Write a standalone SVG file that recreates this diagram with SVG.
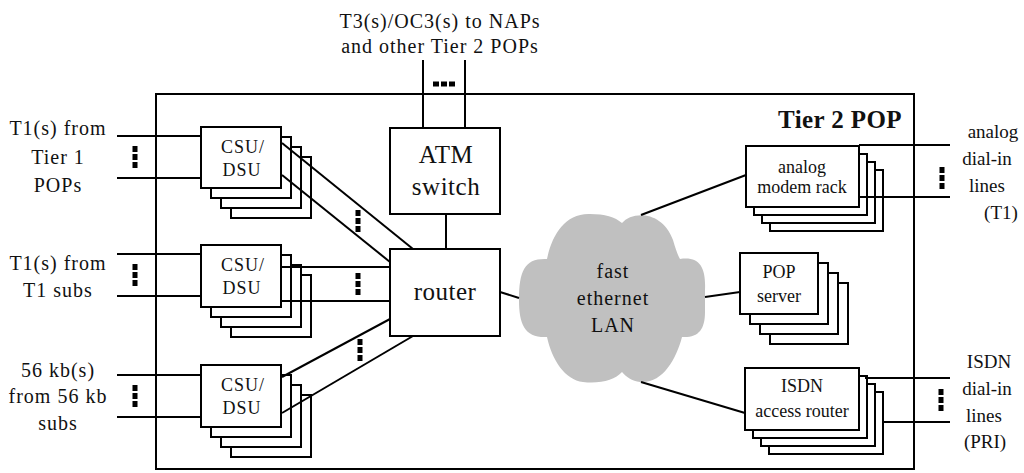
<svg xmlns="http://www.w3.org/2000/svg" xmlns:xlink="http://www.w3.org/1999/xlink" width="1024" height="473" viewBox="0 0 1024 473" font-family="'Liberation Serif', 'DejaVu Serif', serif">
<style>
.box{fill:#fff;stroke:#000;stroke-width:2}
.ln{stroke:#000;stroke-width:2;fill:none}
text{font-family:'Liberation Serif','DejaVu Serif',serif;fill:#111}
.lbl{font-size:20px;letter-spacing:1px;text-anchor:middle}
.rl{font-size:19px;text-anchor:middle}
.bl{font-size:18px;text-anchor:middle}
.big{font-size:25px;letter-spacing:0.5px;text-anchor:middle}
.cloud{fill:#c0c0c0}
</style>
<defs>
<g id="vdots"><rect x="-2.5" y="-11" width="5" height="6"/><rect x="-2.5" y="-3" width="5" height="6"/><rect x="-2.5" y="5" width="5" height="6"/></g>
<g id="hdots"><rect x="-11" y="-2.5" width="6" height="5"/><rect x="-3" y="-2.5" width="6" height="5"/><rect x="5" y="-2.5" width="6" height="5"/></g>
</defs>
<rect id="pop" x="156" y="94" width="758" height="375" fill="none" stroke="#000" stroke-width="2"/>
<text x="902" y="128" font-size="25" font-weight="bold" text-anchor="end" letter-spacing="0.4">Tier 2 POP</text>

<g id="top-label">
<text class="lbl" x="440" y="28">T3(s)/OC3(s) to NAPs</text>
<text class="lbl" x="440" y="53">and other Tier 2 POPs</text>
</g>
<g id="left-labels">
<text class="lbl" x="58" y="135">T1(s) from</text>
<text class="lbl" x="58" y="164">Tier 1</text>
<text class="lbl" x="58" y="192">POPs</text>
<text class="lbl" x="58" y="270">T1(s) from</text>
<text class="lbl" x="58" y="297">T1 subs</text>
<text class="lbl" x="58" y="377">56 kb(s)</text>
<text class="lbl" x="58" y="403">from 56 kb</text>
<text class="lbl" x="58" y="430">subs</text>
</g>
<g id="right-labels">
<text class="rl" x="993" y="138">analog</text>
<text class="rl" x="987" y="165">dial-in</text>
<text class="rl" x="987" y="192">lines</text>
<text class="rl" x="1001" y="219">(T1)</text>
<text class="rl" x="989" y="368">ISDN</text>
<text class="rl" x="987" y="395">dial-in</text>
<text class="rl" x="984" y="422">lines</text>
<text class="rl" x="985" y="448">(PRI)</text>
</g>

<g id="csu1">
<rect class="box" x="231" y="157" width="80" height="61"/>
<rect class="box" x="221" y="147" width="80" height="61"/>
<rect class="box" x="211" y="137" width="80" height="61"/>
<rect class="box" x="201" y="127" width="80" height="61"/>
<text class="bl" x="243" y="153" letter-spacing="1">CSU/</text>
<text class="bl" x="242" y="176" letter-spacing="1">DSU</text>
</g>
<g id="csu2">
<rect class="box" x="231" y="275" width="80" height="62"/>
<rect class="box" x="221" y="265" width="80" height="62"/>
<rect class="box" x="211" y="255" width="80" height="62"/>
<rect class="box" x="201" y="245" width="80" height="62"/>
<text class="bl" x="243" y="271" letter-spacing="1">CSU/</text>
<text class="bl" x="242" y="294" letter-spacing="1">DSU</text>
</g>
<g id="csu3">
<rect class="box" x="231" y="395" width="80" height="62"/>
<rect class="box" x="221" y="385" width="80" height="62"/>
<rect class="box" x="211" y="375" width="80" height="62"/>
<rect class="box" x="201" y="365" width="80" height="62"/>
<text class="bl" x="243" y="391" letter-spacing="1">CSU/</text>
<text class="bl" x="242" y="414" letter-spacing="1">DSU</text>
</g>
<g id="atm">
<rect class="box" x="390" y="128" width="110" height="86"/>
<text class="big" x="446" y="163">ATM</text>
<text class="big" x="446" y="195">switch</text>
</g>
<g id="router">
<rect class="box" x="390" y="249" width="110" height="87"/>
<text class="big" x="445" y="300">router</text>
</g>
<g id="lan">
<path class="cloud" d="M622,223 C632,211 662,210 673,240 C676,250 678,256 680,259 C700,256 706,268 705,290 L705,312 C705,330 698,338 682,337 C676,360 662,384 640,382 C632,381 626,377 622,372 C615,380 600,384 583,382 C565,380 552,360 547,337 C525,338 519,325 519,300 C519,270 525,258 547,259 C552,235 565,213 590,214 C605,214 615,217 622,223 Z"/>
<text class="lbl" x="613" y="278" letter-spacing="1.5">fast</text>
<text class="lbl" x="613" y="305" letter-spacing="1.5">ethernet</text>
<text class="lbl" x="613" y="332" letter-spacing="1.5">LAN</text>
</g>
<g id="modem">
<rect class="box" x="770" y="170" width="113" height="61"/>
<rect class="box" x="762" y="162" width="113" height="61"/>
<rect class="box" x="754" y="154" width="113" height="61"/>
<rect class="box" x="746" y="146" width="113" height="61"/>
<text class="bl" x="802" y="173">analog</text>
<text class="bl" x="802" y="193">modem rack</text>
</g>
<g id="popserver">
<rect class="box" x="770" y="283" width="78" height="61"/>
<rect class="box" x="760" y="273" width="78" height="61"/>
<rect class="box" x="750" y="263" width="78" height="61"/>
<rect class="box" x="740" y="253" width="78" height="61"/>
<text class="bl" x="779" y="278">POP</text>
<text class="bl" x="779" y="302">server</text>
</g>
<g id="isdn">
<rect class="box" x="769" y="392" width="114" height="62"/>
<rect class="box" x="761" y="384" width="114" height="62"/>
<rect class="box" x="753" y="376" width="114" height="62"/>
<rect class="box" x="745" y="368" width="114" height="62"/>
<text class="bl" x="802" y="392">ISDN</text>
<text class="bl" x="802" y="417">access router</text>
</g>

<g id="connectors">
<line class="ln" x1="117" y1="136" x2="201" y2="136"/>
<line class="ln" x1="117" y1="178" x2="201" y2="178"/>
<line class="ln" x1="117" y1="254" x2="201" y2="254"/>
<line class="ln" x1="117" y1="296" x2="201" y2="296"/>
<line class="ln" x1="117" y1="375" x2="201" y2="375"/>
<line class="ln" x1="117" y1="417" x2="201" y2="417"/>
<line class="ln" x1="282" y1="143" x2="413" y2="249"/>
<line class="ln" x1="282" y1="175" x2="390" y2="262"/>
<line class="ln" x1="281" y1="267" x2="390" y2="267"/>
<line class="ln" x1="281" y1="301" x2="390" y2="301"/>
<line class="ln" x1="282" y1="377" x2="390" y2="319"/>
<line class="ln" x1="282" y1="413" x2="413" y2="336"/>
<line class="ln" x1="423" y1="60" x2="423" y2="128"/>
<line class="ln" x1="465" y1="60" x2="465" y2="128"/>
<line class="ln" x1="446" y1="214" x2="446" y2="249"/>
<line class="ln" x1="500" y1="292" x2="519" y2="298"/>
<line class="ln" x1="641" y1="215" x2="746" y2="175"/>
<line class="ln" x1="705" y1="297" x2="740" y2="292"/>
<line class="ln" x1="641" y1="382" x2="745" y2="413"/>
<line class="ln" x1="859" y1="145" x2="950" y2="145"/>
<line class="ln" x1="859" y1="197" x2="950" y2="197"/>
<line class="ln" x1="865" y1="378" x2="950" y2="378"/>
<line class="ln" x1="884" y1="422" x2="950" y2="422"/>
<use xlink:href="#vdots" href="#vdots" x="135" y="157"/>
<use xlink:href="#vdots" href="#vdots" x="135" y="275"/>
<use xlink:href="#vdots" href="#vdots" x="135" y="396"/>
<use xlink:href="#vdots" href="#vdots" x="358" y="221"/>
<use xlink:href="#vdots" href="#vdots" x="358" y="284"/>
<use xlink:href="#vdots" href="#vdots" x="360" y="350"/>
<use xlink:href="#hdots" href="#hdots" x="444" y="84"/>
<use xlink:href="#vdots" href="#vdots" x="942" y="178"/>
<use xlink:href="#vdots" href="#vdots" x="941" y="400"/>
</g>
</svg>
